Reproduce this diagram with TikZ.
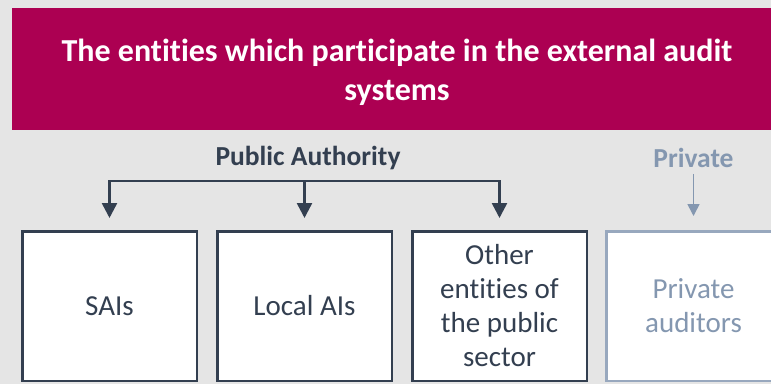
\documentclass[tikz,border=0pt]{standalone}
\usepackage{fontspec}
\setmainfont{Carlito}[Ligatures={NoCommon,NoContextual},RawFeature={-liga;-dlig;-calt}]
\usetikzlibrary{arrows.meta}
\definecolor{bg}{HTML}{E5E5E5}
\definecolor{banner}{HTML}{AC0052}
\definecolor{dark}{HTML}{333F50}
\definecolor{light}{HTML}{8497B0}
\definecolor{lightline}{HTML}{98A8BE}
\begin{document}
\begin{tikzpicture}[x=1pt,y=-1pt,
  box/.style={draw=dark,line width=2.5pt,fill=white,minimum width=174.5pt,minimum height=149.5pt,
    inner sep=0pt,align=center,text=dark,font=\fontsize{29}{34}\selectfont},
  pbox/.style={box,draw=lightline,text=light},
  head/.style={font=\bfseries\fontsize{27.5}{32}\selectfont,inner sep=0pt},
  conn/.style={draw=dark,line width=2.5pt,-{Triangle[length=15pt,width=15pt]},shorten >=12pt},
  pconn/.style={draw=light,line width=1.6pt,-{Triangle[length=12pt,width=12pt]},shorten >=14pt,shorten <=6pt}]
\fill[bg] (0,0) rectangle (771,384);
\useasboundingbox (0,0) rectangle (771,384);
\clip (0,0) rectangle (771,384);
\fill[banner] (12,8) rectangle (780,130);
\node[text=white,font=\bfseries\fontsize{32}{39}\selectfont,align=center,inner sep=0pt] (title) at (397,72)
  {The entities which participate in the external audit\\systems};
\node[box] (sai) at (109.5,306) {\raisebox{-2pt}{SAIs}};
\node[box] (local) at (304.5,306) {\raisebox{-2pt}{Local AIs}};
\node[box] (other) at (499.5,306) {Other\\entities of\\the public\\sector};
\node[pbox] (priv) at (693.5,306) {Private\\auditors};
\node[head,text=dark] (pub) at (308,158) {Public Authority};
\node[head,text=light] (privlab) at (693.5,158) {Private};
\coordinate (hub) at (304.5,181);
\draw[conn] (hub) -| (sai.north);
\draw[conn] (hub) -| (other.north);
\draw[conn] (hub) -- (local.north);
\draw[pconn] (privlab.south) -- (priv.north);
\end{tikzpicture}
\end{document}
